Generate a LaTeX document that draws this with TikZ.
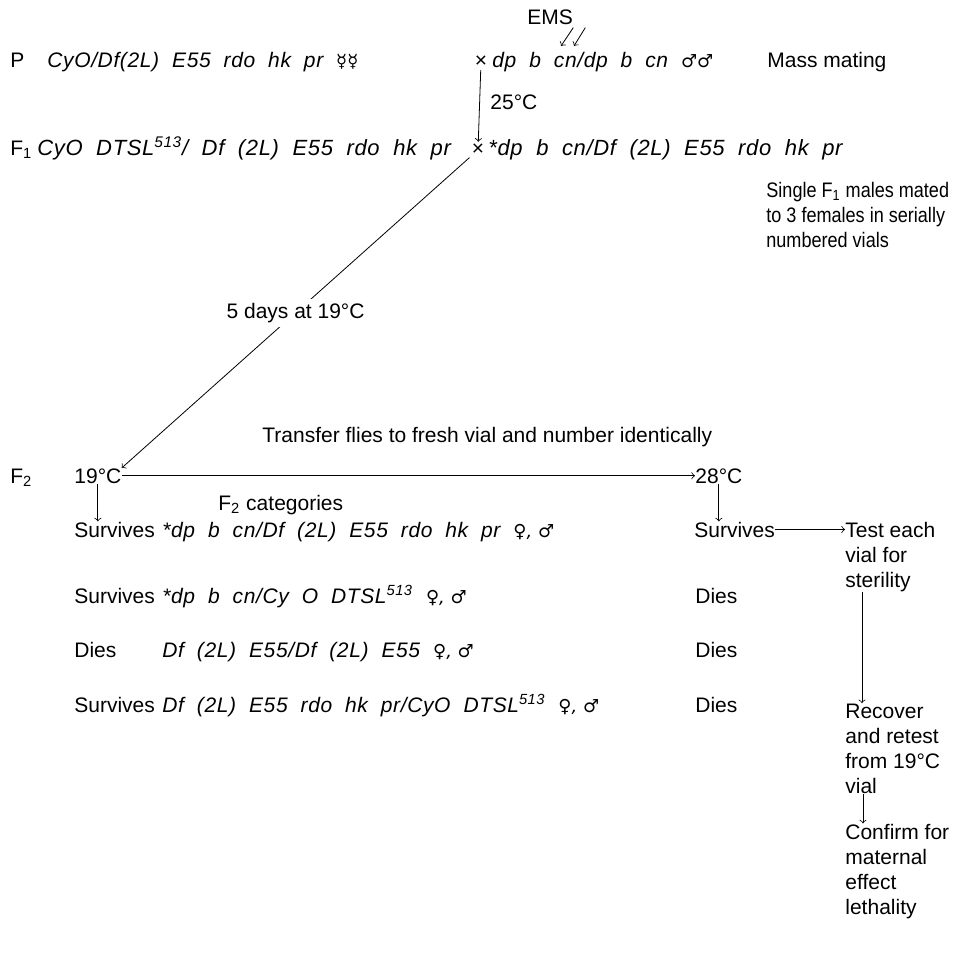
\documentclass[tikz,border=0pt]{standalone}
\usepackage{fontspec}
\setmainfont{Liberation Sans}
\newfontfamily\symf{DejaVu Sans}
\newfontfamily\genof[LetterSpace=3,WordSpace=2]{Liberation Sans}
\newfontfamily\condf[FakeStretch=0.86]{Liberation Sans}
\usetikzlibrary{arrows,calc}
\newcommand{\dfont}{\fontsize{10.5}{12.5}\selectfont}
\newcommand{\virgins}{{\symf\fontsize{9}{9}\selectfont ☿☿}}
\newcommand{\males}{{\symf\fontsize{9}{9}\selectfont ♂♂}}
\newcommand{\sexes}{{\symf\fontsize{9}{9}\selectfont ♀, ♂}}

\begin{document}
\begin{tikzpicture}[x=0.5pt,y=-0.5pt,
		txt/.style={inner sep=0pt, anchor=base west, font=\dfont},
		geno/.style={txt, font=\dfont\genof\itshape},
		blk/.style={txt, align=left},
		cross/.style={inner sep=1pt, font=\dfont}]
		\useasboundingbox (0,0) rectangle (963,964);

		% parents
		\draw (10,67) node[txt](pLbl){P};
		\draw (47,67) node[geno](pFem){CyO/Df(2L) E55 rdo hk pr \virgins};
		\draw (481,62) node[cross](crossP){×};
		\draw (492,67) node[geno](pMale){dp b cn/dp b cn \males};
		\draw (527,24) node[txt](ems){EMS};
		\draw (767,67) node[txt](mass){Mass mating};
		\coordinate (cnC) at (561,46);
		\coordinate (cnN) at (574,46);
		\draw[->] ($(ems.south east)+(0,3)$) -- (cnC);
		\draw[->] ($(ems.south east)+(12,3)$) -- (cnN);

		% F1
		\draw (490,109) node[txt](tMid){25°C};
		\draw (10,155) node[txt](fOne){F\textsubscript{1}};
		\draw (37,155) node[geno, font=\fontsize{11}{13}\selectfont\genof\itshape](fFem){CyO DTSL\textsuperscript{513}/ Df (2L) E55 rdo hk pr};
		\draw (478,150) node[cross](crossF){×};
		\draw (488,155) node[geno, font=\fontsize{11}{13}\selectfont\genof\itshape](fMale){*dp b cn/Df (2L) E55 rdo hk pr};
		\draw (766,247) node[blk, font=\dfont\condf](single){Single F\textsubscript{1} males mated\\to 3 females in serially\\numbered vials};
		\draw[->] (crossP) -- (crossF);

		% F2
		\draw (10,483) node[txt](fTwo){F\textsubscript{2}};
		\draw (74,483) node[txt](tLow){19°C};
		\draw (695,483) node[txt](tHigh){28°C};
		\draw (262,442) node[txt](transfer){Transfer flies to fresh vial and number identically};
		\draw[->] (crossF) -- (tLow.north east) node[pos=0.5, fill=white, inner sep=2pt, font=\dfont](days){5 days at 19°C};
		\draw[->] (tLow) -- (tHigh);
		\draw (218,510) node[txt](cats){F\textsubscript{2} categories};

		\draw (74,537) node[txt](sOne){Survives};
		\draw (162,537) node[geno](gOne){*dp b cn/Df (2L) E55 rdo hk pr \sexes};
		\draw (694,537) node[txt](hOne){Survives};
		\draw (74,603) node[txt](sTwo){Survives};
		\draw (162,603) node[geno](gTwo){*dp b cn/Cy O DTSL\textsuperscript{513} \sexes};
		\draw (695,603) node[txt](hTwo){Dies};
		\draw (74,657) node[txt](sThree){Dies};
		\draw (162,657) node[geno](gThree){Df (2L) E55/Df (2L) E55 \sexes};
		\draw (695,657) node[txt](hThree){Dies};
		\draw (74,712) node[txt](sFour){Survives};
		\draw (162,712) node[geno](gFour){Df (2L) E55 rdo hk pr/CyO DTSL\textsuperscript{513} \sexes};
		\draw (695,712) node[txt](hFour){Dies};

		\draw[->] (tLow) -- (tLow |- sOne.north);
		\draw[->] (tHigh) -- (tHigh |- hOne.north);

		% right column
		\draw (845,587) node[blk](test){Test each\\vial for\\sterility};
		\draw (845,793) node[blk](recover){Recover\\and retest\\from 19°C\\vial};
		\draw (845,914) node[blk](confirm){Confirm for\\maternal\\effect\\lethality};
		\draw[->] (hOne) -- (hOne -| test.west);
		\draw[->] ($(test.south west)+(17,0)$) -- ($(recover.north west)+(17,0)$);
		\draw[->] ($(recover.south west)+(18,0)$) -- ($(confirm.north west)+(18,0)$);
	\end{tikzpicture}
\end{document}
